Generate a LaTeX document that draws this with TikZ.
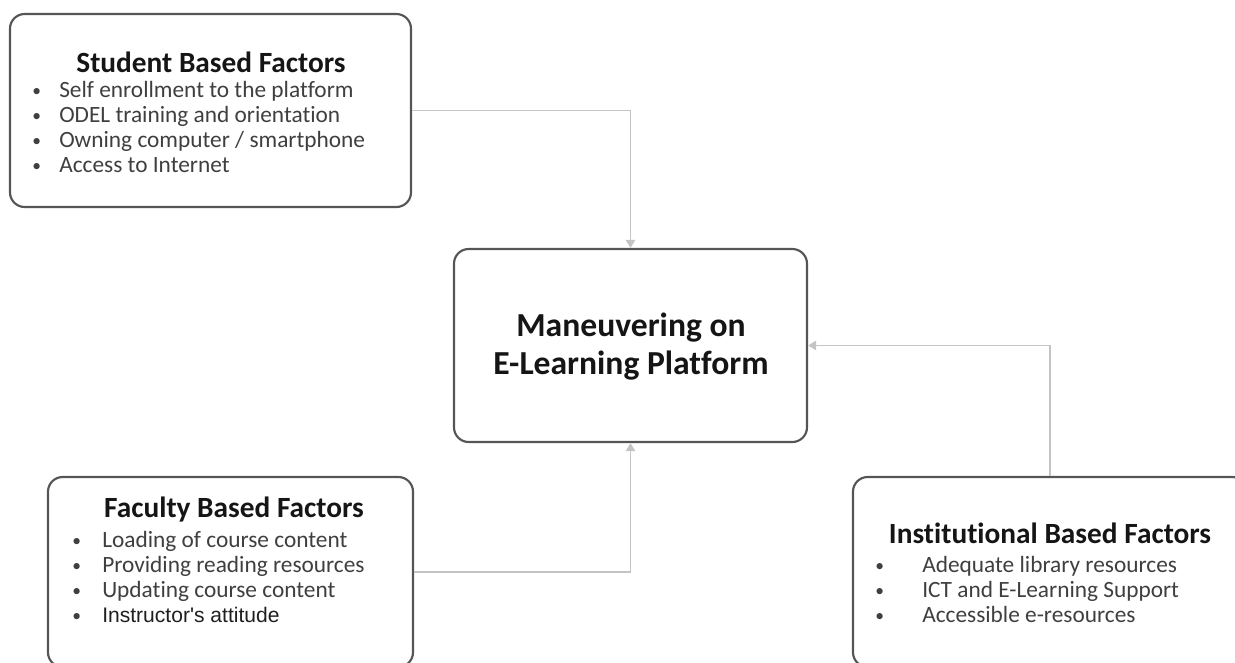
\documentclass[tikz,border=0pt]{standalone}
\usepackage{fontspec}
\setmainfont{Carlito}[Ligatures=NoCommon]
\newfontfamily\arialfont{Liberation Sans}
\usetikzlibrary{fit,arrows.meta}

\definecolor{boxline}{HTML}{555555}
\definecolor{linkgray}{HTML}{C4C4C4}
\definecolor{itemtext}{HTML}{3F3F3F}
\definecolor{titletext}{HTML}{151515}

% one bullet row: a small bullet in a box of given width, then the text
\newcommand{\bulletrow}[2]{\makebox[#1][l]{\raisebox{0.5pt}{\scalebox{0.75}{\textbullet}}}#2}

\begin{document}
\begin{tikzpicture}[x=0.75pt,y=-0.75pt,
  box/.style={draw=boxline, line width=1.6pt, rounded corners=11pt, inner sep=0pt},
  conn/.style={draw=linkgray, line width=1.1pt, -{Triangle[length=6pt,width=7pt]}},
  boxtitle/.style={font=\fontsize{22}{25}\selectfont\bfseries, text=titletext, inner sep=0pt},
  itemlist/.style={font=\fontsize{17.5}{18.75}\selectfont, text=itemtext, inner sep=0pt, anchor=west, align=left},
  hubtitle/.style={font=\fontsize{25.2}{28.5}\selectfont\bfseries, text=titletext, align=center, inner sep=0pt}]
\useasboundingbox (0,0) rectangle (1235,662);

% factor boxes and the central box
\node[box, fit={(10,14)(411,207)}] (student) {};
\node[box, fit={(454,249)(807,442)}] (hub) {};
\node[box, fit={(48,477)(413,667)}] (faculty) {};
\node[box, fit={(853,477)(1247,667)}] (inst) {};

% connectors into the central box
\draw[conn] (student.east) -| (hub.north);
\draw[conn] (faculty.east) -| (hub.south);
\draw[conn] (inst.north) |- (hub.east);

% central box text
\node[hubtitle] (hubT) at (631,347) {Maneuvering on\\E-Learning Platform};

% student based factors
\node[boxtitle] (studentT) at (211,62) {Student Based Factors};
\node[itemlist] (studentL) at (32,126.5) {%
  \bulletrow{20.25pt}{Self enrollment to the platform}\\
  \bulletrow{20.25pt}{ODEL training and orientation}\\
  \bulletrow{20.25pt}{Owning computer / smartphone}\\
  \bulletrow{20.25pt}{Access to Internet}};

% faculty based factors
\node[boxtitle] (facultyT) at (234,510) {Faculty Based Factors};
\node[itemlist] (facultyL) at (72,577) {%
  \bulletrow{22.5pt}{Loading of course content}\\
  \bulletrow{22.5pt}{Providing reading resources}\\
  \bulletrow{22.5pt}{Updating course content}\\
  \bulletrow{22.5pt}{{\arialfont\fontsize{15.8}{18.75}\selectfont\color{black!88}Instructor's attitude}}};

% institutional based factors
\node[boxtitle] (instT) at (1050,533) {Institutional Based Factors};
\node[itemlist] (instL) at (875,589) {%
  \bulletrow{35.25pt}{Adequate library resources}\\
  \bulletrow{35.25pt}{ICT and E-Learning Support}\\
  \bulletrow{35.25pt}{Accessible e-resources}};
\end{tikzpicture}
\end{document}
